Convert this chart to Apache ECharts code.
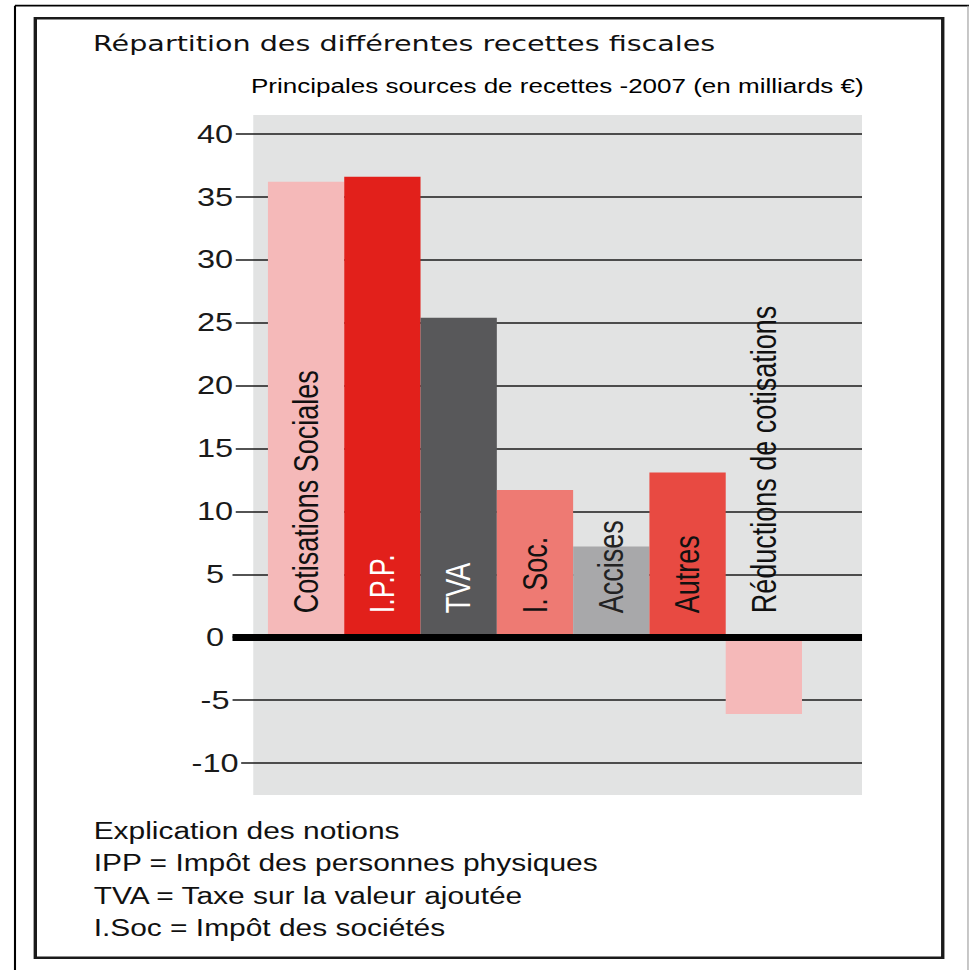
<!DOCTYPE html>
<html>
<head>
<meta charset="utf-8">
<script src="https://cdn.jsdelivr.net/npm/echarts@6/dist/echarts.min.js"></script>
<style>
  html, body { margin: 0; padding: 0; background: #fff; overflow: hidden; }
  /* The figure is laid out narrower and widened horizontally, which gives
     the lettering its stretched, condensed-looking proportions. */
  #chart { width: 745px; height: 970px; transform: scaleX(1.3007); transform-origin: 0 0; }
</style>
</head>
<body>
<div id="chart"></div>
<script>
// Tax revenue sources, 2007, in billions of euros
const categories = ['Cotisations Sociales', 'I.P.P.', 'TVA', 'I. Soc.', 'Accises', 'Autres', 'Réductions de cotisations'];
const values = [36.2, 36.6, 25.4, 11.7, 7.2, 13.1, -6.1];
const barColors = ['#f5b9b9', '#e2201b', '#58585a', '#ee7a73', '#a8a8aa', '#e84a42', '#f5b9b9'];
const labelColors = ['#111', '#fff', '#fff', '#111', '#222', '#111', '#111'];

// Value axis ticks
const yMin = -10;
const yMax = 40;
const yStep = 5;

const titleText = 'Répartition des différentes recettes fiscales';
const subtitleText = 'Principales sources de recettes -2007 (en milliards €)';
const notes = [
  'Explication des notions',
  'IPP = Impôt des personnes physiques',
  'TVA = Taxe sur la valeur ajoutée',
  'I.Soc = Impôt des sociétés'
];

const SANS = "'Liberation Sans', Arial, Helvetica, sans-serif";
const WIDE = "'DejaVu Sans', Verdana, sans-serif";

const chart = echarts.init(document.getElementById('chart'), null, { renderer: 'svg' });

const plotTop = 134;
const plotHeight = 629;

chart.setOption({
  animation: false,
  backgroundColor: 'transparent',
  grid: [
    // bars
    { left: 206, width: 410.6, top: plotTop, height: plotHeight, containLabel: false },
    // scale, grid lines and zero line
    { left: 178.75, width: 484, top: plotTop, height: plotHeight, containLabel: false }
  ],
  xAxis: [
    { type: 'category', gridIndex: 0, data: categories, show: false },
    {
      type: 'category', gridIndex: 1, data: [''], z: 5,
      axisLine: { show: true, onZero: true, lineStyle: { color: '#000', width: 7, cap: 'butt' } },
      axisTick: { show: false }, axisLabel: { show: false }, splitLine: { show: false }
    }
  ],
  yAxis: [
    { type: 'value', gridIndex: 0, min: yMin, max: yMax, interval: yStep, show: false },
    {
      type: 'value', gridIndex: 1, min: yMin, max: yMax, interval: yStep,
      axisLine: { show: false }, axisTick: { show: false },
      splitLine: { show: true, lineStyle: { color: '#1a1a1a', width: 1.6 } },
      axisLabel: {
        fontFamily: SANS, fontSize: 25, color: '#1a1a1a',
        align: 'center', margin: 13.4,
        backgroundColor: '#fff', padding: [0, 2]
      }
    }
  ],
  series: [{
    type: 'bar',
    xAxisIndex: 0, yAxisIndex: 0,
    barCategoryGap: '0%',
    data: values.map((v, i) => ({
      value: v,
      itemStyle: { color: barColors[i] },
      label: { color: labelColors[i], position: v < 0 ? 'top' : 'insideBottom' }
    })),
    label: {
      show: true,
      formatter: p => p.name,
      rotate: 90,
      align: 'left',
      verticalAlign: 'middle',
      distance: 24,
      fontFamily: SANS,
      fontSize: 27
    }
  }],
  graphic: [
    // plot background
    { type: 'rect', z: -10, silent: true,
      shape: { x: 194.7, y: 115, width: 468, height: 680 },
      style: { fill: '#e2e3e3' } },
    // outer frame (top, left, right)
    { type: 'line', shape: { x1: 11.53, y1: 5.7, x2: 745, y2: 5.7 }, style: { stroke: '#000', lineWidth: 1.8 } },
    { type: 'line', shape: { x1: 11.53, y1: 5.7, x2: 11.53, y2: 975 }, style: { stroke: '#000', lineWidth: 1.6 } },
    { type: 'line', shape: { x1: 744.2, y1: 5.7, x2: 744.2, y2: 975 }, style: { stroke: '#aaa', lineWidth: 1 } },
    // inner frame
    { type: 'rect', shape: { x: 27.14, y: 18.3, width: 697.66, height: 939.4 },
      style: { fill: 'none', stroke: '#1a1a1a', lineWidth: 2.6 } },
    // headings
    { type: 'text', x: 71.5, y: 43,
      style: { text: titleText, fontFamily: WIDE, fontSize: 22, fill: '#111', verticalAlign: 'middle', align: 'left' } },
    { type: 'text', x: 193, y: 86,
      style: { text: subtitleText, fontFamily: SANS, fontSize: 20, fill: '#000', verticalAlign: 'middle', align: 'left' } },
    // glossary
    { type: 'text', x: 72, y: 814.75,
      style: { text: notes.join('\n'), fontFamily: SANS, fontSize: 23, lineHeight: 32.5, fill: '#111', verticalAlign: 'top', align: 'left' } }
  ]
});
</script>
</body>
</html>
